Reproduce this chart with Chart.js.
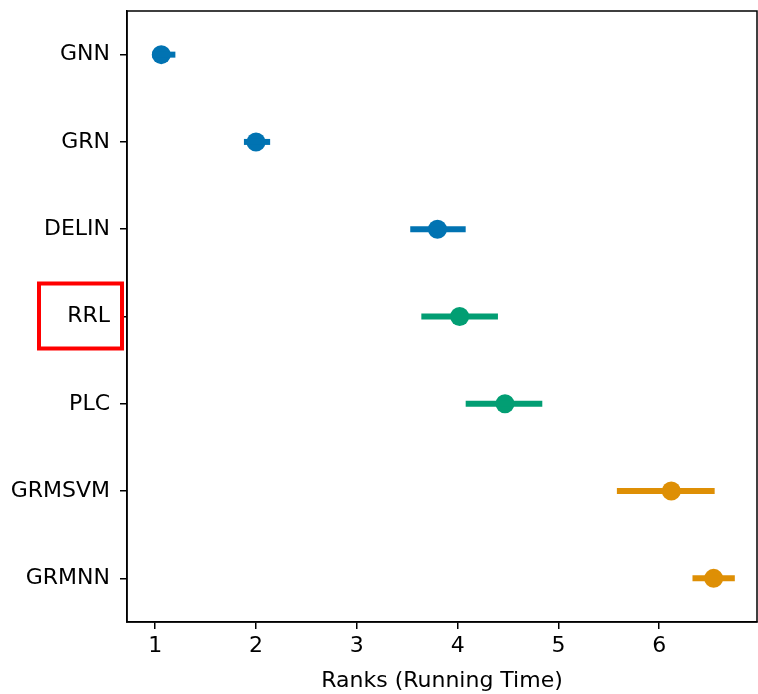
<!DOCTYPE html>
<html><head><meta charset="utf-8">
<script src="https://cdn.jsdelivr.net/npm/chart.js@4"></script>
<style>html,body{margin:0;padding:0;background:#fff;overflow:hidden}canvas{display:block}</style>
</head><body><canvas id="c" width="758" height="694"></canvas>
<script>
const categories = ["GNN","GRN","DELIN","RRL","PLC","GRMSVM","GRMNN"];
const meanRank = [1.06, 2.00, 3.80, 4.02, 4.47, 6.12, 6.54];
const lowerRank = [0.97, 1.88, 3.53, 3.64, 4.08, 5.58, 6.33];
const upperRank = [1.20, 2.14, 4.08, 4.40, 4.84, 6.55, 6.75];
const groupColors = ["#0173B2","#0173B2","#0173B2","#029E73","#029E73","#DE8F05","#DE8F05"];
const xTicks = [1,2,3,4,5,6];
const highlighted = "RRL";

const datasets = categories.map((c,i)=>({
  type:'line', data:[{x:lowerRank[i],y:i},{x:upperRank[i],y:i}],
  borderColor:groupColors[i], borderWidth:6, pointRadius:0, borderCapStyle:'butt', fill:false
}));
datasets.push({
  type:'scatter', data:meanRank.map((v,i)=>({x:v,y:i})),
  pointBackgroundColor:groupColors, pointBorderColor:groupColors, pointRadius:9.5, pointBorderWidth:0
});

const frame = {
  id:'frame',
  afterDraw(chart){
    const {ctx, chartArea:a, scales} = chart;
    ctx.save();
    ctx.strokeStyle='#000'; ctx.lineWidth=1.5;
    ctx.strokeRect(a.left, a.top, a.right-a.left, a.bottom-a.top);
    const idx = categories.indexOf(highlighted);
    const yc = scales.y.getPixelForValue(idx);
    ctx.strokeStyle='#ff0000'; ctx.lineWidth=4;
    ctx.strokeRect(a.left-88, yc-33, 83, 65);
    ctx.restore();
  }
};
function zeroPad(s){ s.paddingTop=0; s.paddingBottom=0; s.paddingLeft=0; s.paddingRight=0; }

new Chart(document.getElementById('c'), {
  data:{datasets},
  options:{
    responsive:false, animation:false, devicePixelRatio:1,
    layout:{autoPadding:false, padding:{top:11,right:1,left:0,bottom:0}},
    plugins:{legend:{display:false}, tooltip:{enabled:false}},
    scales:{
      x:{type:'linear', min:0.72, max:6.97,
        afterBuildTicks(s){ s.ticks = xTicks.map(v=>({value:v})); },
        ticks:{color:'#000', font:{family:'DejaVu Sans', size:22}, padding:4, autoSkip:false, maxRotation:0},
        grid:{display:true, drawOnChartArea:false, drawTicks:true, tickLength:7, color:'#000', lineWidth:1.5},
        border:{display:true,color:'#000',width:1.5},
        title:{display:true, text:'Ranks (Running Time)', color:'#000', font:{family:'DejaVu Sans', size:22}, padding:{top:0,bottom:0}},
        afterFit(s){ s.height = 72; zeroPad(s); }
      },
      y:{type:'linear', min:-0.5, max:6.5, reverse:true,
        afterBuildTicks(s){ s.ticks = categories.map((c,i)=>({value:i})); },
        ticks:{color:'#000', font:{family:'DejaVu Sans', size:22}, padding:10, autoSkip:false,
          callback:(v)=>categories[v]},
        grid:{display:true, drawOnChartArea:false, drawTicks:true, tickLength:7, color:'#000', lineWidth:1.5},
        border:{display:true,color:'#000',width:1.5},
        afterFit(s){ s.width = 127; zeroPad(s); }
      }
    }
  },
  plugins:[frame]
});
</script></body></html>
